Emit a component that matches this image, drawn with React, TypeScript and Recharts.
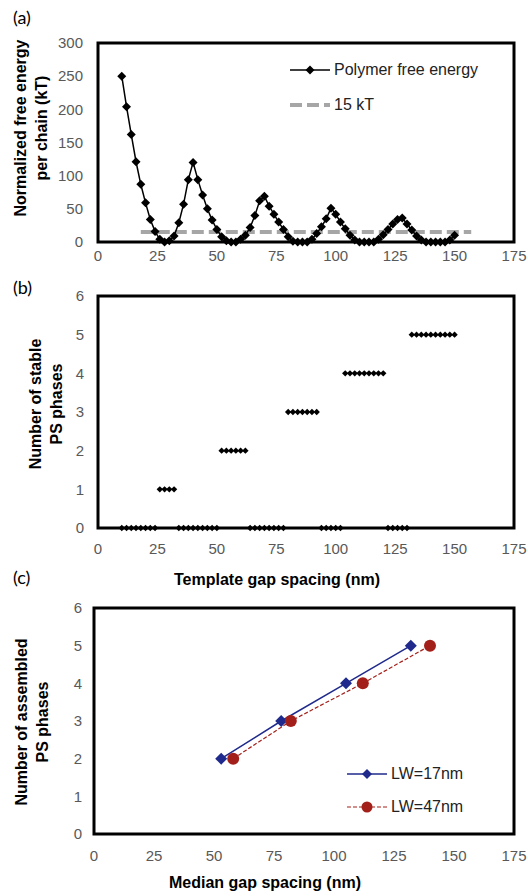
import {
  Line,
  LineChart,
  ReferenceArea,
  Scatter,
  ScatterChart,
  XAxis,
  YAxis,
} from "recharts"

// template gap spacing (nm), shared by panels (a) and (b)
const gapSpacing = [
  10, 12, 14, 16, 18, 20, 22, 24, 26, 28, 30, 32, 34, 36, 38, 40, 42, 44, 46, 48,
  50, 52, 54, 56, 58, 60, 62, 64, 66, 68, 70, 72, 74, 76, 78, 80, 82, 84, 86, 88,
  90, 92, 94, 96, 98, 100, 102, 104, 106, 108, 110, 112, 114, 116, 118, 120, 122,
  124, 126, 128, 130, 132, 134, 136, 138, 140, 142, 144, 146, 148, 150,
]

// (a) polymer free energy per chain (kT)
const freeEnergy = [
  250, 204, 162, 121, 87, 59, 34, 16, 4, 0, 2, 9, 29, 57, 94, 120, 94, 71, 50, 33,
  19, 8, 2, 0, 0, 4, 10, 22, 40, 62, 69, 54, 42, 30, 19, 8, 1, 0, 0, 0,
  4, 13, 23, 35, 51, 42, 30, 20, 10, 3, 0, 0, 0, 0, 4, 11, 19,
  27, 34, 36, 27, 18, 9, 3, 0, 0, 0, 0, 0, 3, 10,
]

// 15 kT reference line
const thresholdX = [18, 157]
const thresholdY = [15, 15]

// (b) number of stable PS phases
const stablePhases = [
  0, 0, 0, 0, 0, 0, 0, 0, 1, 1, 1, 1, 0, 0, 0, 0, 0, 0, 0, 0,
  0, 2, 2, 2, 2, 2, 2, 0, 0, 0, 0, 0, 0, 0, 0, 3, 3, 3, 3, 3,
  3, 3, 0, 0, 0, 0, 0, 4, 4, 4, 4, 4, 4, 4, 4, 4, 0,
  0, 0, 0, 0, 5, 5, 5, 5, 5, 5, 5, 5, 5, 5,
]

// (c) median gap spacing vs assembled phases
const lw17Spacing = [53, 78, 105, 132]
const lw47Spacing = [58, 82, 112, 140]
const assembledPhases = [2, 3, 4, 5]

const xTicks = [0, 25, 50, 75, 100, 125, 150, 175]
const energyTicks = [0, 50, 100, 150, 200, 250, 300]
const phaseTicks = [0, 1, 2, 3, 4, 5, 6]

const energyData = gapSpacing.map((x, i) => ({ x, y: freeEnergy[i] }))
const thresholdData = thresholdX.map((x, i) => ({ x, y: thresholdY[i] }))
const phaseData = gapSpacing.map((x, i) => ({ x, y: stablePhases[i] }))
const lw17Data = lw17Spacing.map((x, i) => ({ x, y: assembledPhases[i] }))
const lw47Data = lw47Spacing.map((x, i) => ({ x, y: assembledPhases[i] }))

const sans = "'Liberation Sans', Arial, sans-serif"
const tickStyle = { fontSize: 15, fill: "#595959", fontFamily: sans }

const Diamond = ({ cx, cy, r, fill }: any) => {
  if (cx == null || cy == null) return null
  return (
    <path
      d={`M${cx},${cy - r}L${cx + r},${cy}L${cx},${cy + r}L${cx - r},${cy}Z`}
      fill={fill}
    />
  )
}

// boxed frame around the plot area, sized by the axis scales
const FrameRect = (p: any) => (
  <rect
    x={p.x}
    y={p.y}
    width={p.width}
    height={p.height}
    style={{ fill: "none", stroke: "#000", strokeWidth: 3 }}
  />
)

const frame = (yMax: number) => (
  <ReferenceArea x1={0} x2={175} y1={0} y2={yMax} ifOverflow="visible" shape={FrameRect} />
)

const YTitle = ({ cx, cy, lines }: { cx: number; cy: number; lines: string[] }) => (
  <div
    style={{
      position: "absolute",
      left: cx,
      top: cy,
      transform: "translate(-50%, -50%) rotate(-90deg)",
      whiteSpace: "nowrap",
      textAlign: "center",
      fontFamily: sans,
      fontWeight: "bold",
      fontSize: 16,
      lineHeight: "21px",
      color: "#000",
    }}
  >
    {lines[0]}
    <br />
    {lines[1]}
  </div>
)

const XTitle = ({ cx, cy, text }: { cx: number; cy: number; text: string }) => (
  <div
    style={{
      position: "absolute",
      left: cx,
      top: cy,
      transform: "translate(-50%, -50%)",
      whiteSpace: "nowrap",
      fontFamily: sans,
      fontWeight: "bold",
      fontSize: 16,
      color: "#000",
    }}
  >
    {text}
  </div>
)

const PanelTag = ({ top, text }: { top: number; text: string }) => (
  <div
    style={{
      position: "absolute",
      left: 13,
      top,
      fontFamily: "Lato, 'Open Sans', sans-serif",
      fontSize: 18,
      lineHeight: "18px",
      color: "#000",
    }}
  >
    {text}
  </div>
)

const legendRow = (icon: any, label: string, h: number) => (
  <div style={{ display: "flex", alignItems: "center", height: h }}>
    <svg width={42} height={14} style={{ display: "block" }}>
      {icon}
    </svg>
    <span style={{ fontFamily: sans, fontSize: 16, color: "#222", marginLeft: 2 }}>
      {label}
    </span>
  </div>
)

const EnergyLegend = () => (
  <div style={{ position: "absolute", left: 290, top: 52 }}>
    {legendRow(
      <>
        <line x1={0} y1={7} x2={40} y2={7} stroke="#000" strokeWidth={1.5} />
        <Diamond cx={20} cy={7} r={4.5} fill="#000" />
      </>,
      "Polymer free energy",
      35
    )}
    {legendRow(
      <line x1={0} y1={7} x2={40} y2={7} stroke="#a6a6a6" strokeWidth={4} strokeDasharray="12 5" />,
      "15 kT",
      35
    )}
  </div>
)

const WidthLegend = () => (
  <div style={{ position: "absolute", left: 347, top: 757 }}>
    {legendRow(
      <>
        <line x1={0} y1={7} x2={40} y2={7} stroke="#1f2a8c" strokeWidth={1.5} />
        <Diamond cx={20} cy={7} r={5} fill="#1f2a8c" />
      </>,
      "LW=17nm",
      33
    )}
    {legendRow(
      <>
        <line x1={0} y1={7} x2={40} y2={7} stroke="#a3201a" strokeWidth={1.2} strokeDasharray="4 2" />
        <circle cx={20} cy={7} r={5.5} fill="#a3201a" />
      </>,
      "LW=47nm",
      33
    )}
  </div>
)

const xAxisProps = {
  type: "number" as const,
  dataKey: "x",
  domain: [0, 175],
  ticks: xTicks,
  height: 30,
  tickLine: false,
  axisLine: false,
  tick: tickStyle,
}

const yAxisProps = {
  type: "number" as const,
  dataKey: "y",
  width: 40,
  tickLine: false,
  axisLine: false,
  tick: tickStyle,
}

export default function App() {
  return (
    <div style={{ position: "absolute", left: 0, top: 0, width: 528, height: 896, background: "#fff" }}>
      <PanelTag top={8} text="(a)" />
      <div style={{ position: "absolute", left: 0, top: 0 }}>
        <LineChart width={528} height={275} margin={{ top: 43, right: 14, bottom: 3, left: 58 }}>
          <XAxis {...xAxisProps} tickMargin={2} />
          <YAxis {...yAxisProps} domain={[0, 300]} ticks={energyTicks} tickMargin={9} />
          <Line
            data={thresholdData}
            dataKey="y"
            stroke="#a6a6a6"
            strokeWidth={4}
            strokeDasharray="12 5"
            dot={false}
            isAnimationActive={false}
          />
          <Line
            data={energyData}
            dataKey="y"
            stroke="#000"
            strokeWidth={1.5}
            dot={(p: any) => <Diamond key={p.index} cx={p.cx} cy={p.cy} r={4.5} fill="#000" />}
            isAnimationActive={false}
          />
          {frame(300)}
        </LineChart>
      </div>
      <EnergyLegend />
      <YTitle cx={31} cy={128} lines={["Normalized free energy", "per chain (kT)"]} />

      <PanelTag top={278} text="(b)" />
      <div style={{ position: "absolute", left: 0, top: 280 }}>
        <ScatterChart width={528} height={290} margin={{ top: 16, right: 14, bottom: 12, left: 58 }}>
          <XAxis {...xAxisProps} tickMargin={9} />
          <YAxis {...yAxisProps} domain={[0, 6]} ticks={phaseTicks} tickMargin={8} />
          <Scatter
            data={phaseData}
            shape={(p: any) => <Diamond cx={p.cx} cy={p.cy} r={3.2} fill="#000" />}
            isAnimationActive={false}
          />
          {frame(6)}
        </ScatterChart>
      </div>
      <YTitle cx={46} cy={404} lines={["Number of stable", "PS phases"]} />
      <XTitle cx={277} cy={580} text="Template gap spacing (nm)" />

      <PanelTag top={568} text="(c)" />
      <div style={{ position: "absolute", left: 0, top: 590 }}>
        <LineChart width={528} height={290} margin={{ top: 18, right: 14, bottom: 16, left: 54 }}>
          <XAxis {...xAxisProps} tickMargin={10} />
          <YAxis {...yAxisProps} domain={[0, 6]} ticks={phaseTicks} tickMargin={6} />
          <Line
            data={lw17Data}
            dataKey="y"
            stroke="#1f2a8c"
            strokeWidth={1.5}
            dot={(p: any) => <Diamond key={p.index} cx={p.cx} cy={p.cy} r={6} fill="#1f2a8c" />}
            isAnimationActive={false}
          />
          <Line
            data={lw47Data}
            dataKey="y"
            stroke="#a3201a"
            strokeWidth={1.2}
            strokeDasharray="4 2"
            dot={(p: any) => <circle key={p.index} cx={p.cx} cy={p.cy} r={6} fill="#a3201a" />}
            isAnimationActive={false}
          />
          {frame(6)}
        </LineChart>
      </div>
      <WidthLegend />
      <YTitle cx={32} cy={722} lines={["Number of assembled", "PS phases"]} />
      <XTitle cx={265} cy={883} text="Median gap spacing (nm)" />
    </div>
  )
}
